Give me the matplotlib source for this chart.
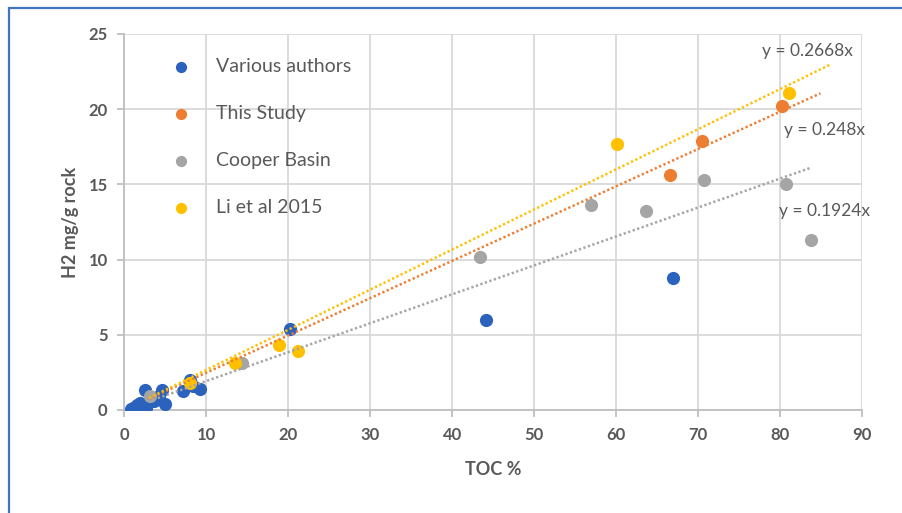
import numpy as np
import matplotlib
matplotlib.use("Agg")
import matplotlib.pyplot as plt
from matplotlib.patches import Rectangle

plt.rcParams['font.family'] = ['Lato', 'DejaVu Sans']

# Hydrogen yield vs TOC, grouped by source
various_toc = [66.9, 44.1, 20.2, 8.0, 9.2, 7.1, 8.4, 2.5, 4.6, 5.0, 1.1, 1.9, 3.6, 0.8, 2.7, 1.5, 4.2]
various_h2 = [8.8, 6.0, 5.4, 2.0, 1.4, 1.25, 1.6, 1.3, 1.35, 0.4, 0.15, 0.49, 0.6, 0.05, 0.15, 0.35, 0.9]

study_toc = [80.2, 70.5, 66.5]
study_h2 = [20.2, 17.9, 15.6]

cooper_toc = [80.7, 83.8, 70.7, 63.6, 56.9, 43.4, 14.4, 3.1]
cooper_h2 = [15.0, 11.3, 15.3, 13.2, 13.6, 10.2, 3.15, 0.9]

li_toc = [81.1, 60.1, 21.2, 18.9, 13.5, 8.0]
li_h2 = [21.1, 17.7, 3.9, 4.3, 3.1, 1.8]

# Zero-intercept trend slopes and plotted spans
slope_li, slope_study, slope_cooper = 0.2668, 0.248, 0.1924
span_li = (3.0, 86.1)
span_study = (3.0, 84.9)
span_cooper = (3.0, 83.7)

x_ticks = [0, 10, 20, 30, 40, 50, 60, 70, 80, 90]
y_ticks = [0, 5, 10, 15, 20, 25]

c_blue = '#2A62BE'
c_orange = '#ED7D31'
c_gray = '#A5A5A5'
c_yellow = '#FFC000'
text_col = '#595959'

fig = plt.figure(figsize=(9.03, 5.13), dpi=100)
ax = fig.add_axes([124.3 / 903, 1 - 410 / 513, (862.3 - 124.3) / 903, (410 - 34) / 513])

ms = 90
ax.scatter(various_toc, various_h2, s=ms, color=c_blue, label='Various authors', zorder=3, linewidths=0)
ax.scatter(study_toc, study_h2, s=ms, color=c_orange, label='This Study', zorder=3, linewidths=0)
ax.scatter(cooper_toc, cooper_h2, s=ms, color=c_gray, label='Cooper Basin', zorder=3, linewidths=0)
ax.scatter(li_toc, li_h2, s=ms, color=c_yellow, label='Li et al 2015', zorder=3, linewidths=0)

for slope, span, col in [(slope_cooper, span_cooper, c_gray),
                         (slope_study, span_study, c_orange),
                         (slope_li, span_li, c_yellow)]:
    xs = np.array(span)
    ax.plot(xs, slope * xs, linestyle=(0, (0.9, 1.0)), color=col, lw=1.8, zorder=4,
            dash_capstyle='butt')

eq_size = 12.5
ax.text(88.8, 23.9, 'y = 0.2668x', color=text_col, fontsize=eq_size, ha='right', va='center')
ax.text(80.5, 18.6, 'y = 0.248x', color=text_col, fontsize=eq_size, ha='left', va='center')
ax.text(79.9, 13.2, 'y = 0.1924x', color=text_col, fontsize=eq_size, ha='left', va='center')

ax.set_xlim(0, 90)
ax.set_ylim(0, 25)
ax.set_xticks(x_ticks)
ax.set_yticks(y_ticks)
ax.grid(True, color='#D9D9D9', lw=1.3, zorder=0)
ax.set_axisbelow(True)
for s in ['top', 'right']:
    ax.spines[s].set_visible(False)
for s in ['left', 'bottom']:
    ax.spines[s].set_color('#BFBFBF')
    ax.spines[s].set_linewidth(1.3)
ax.tick_params(axis='both', colors='#BFBFBF', length=5, width=1.3, labelcolor=text_col,
               labelsize=12, pad=7)
for lab in ax.get_xticklabels() + ax.get_yticklabels():
    lab.set_fontweight('bold')

ax.set_xlabel('TOC %', fontsize=13, fontweight='bold', color=text_col, labelpad=13)
ax.set_ylabel('H2 mg/g rock', fontsize=13, fontweight='bold', color=text_col, labelpad=7)

leg = ax.legend(loc='upper left', bbox_to_anchor=(0.045, 0.957), frameon=False,
                fontsize=14, labelcolor=text_col, handletextpad=1.0, handlelength=1.6,
                labelspacing=1.55, markerscale=0.85, borderaxespad=0)

# Outer frame of the figure panel
fig.patches.append(Rectangle((9.3 / 903, -0.2), 1.2, 1.2 - 8.3 / 513,
                             transform=fig.transFigure, fill=False,
                             edgecolor='#4472C4', lw=1.6, clip_on=False))

fig.savefig('out.png', dpi=100)
